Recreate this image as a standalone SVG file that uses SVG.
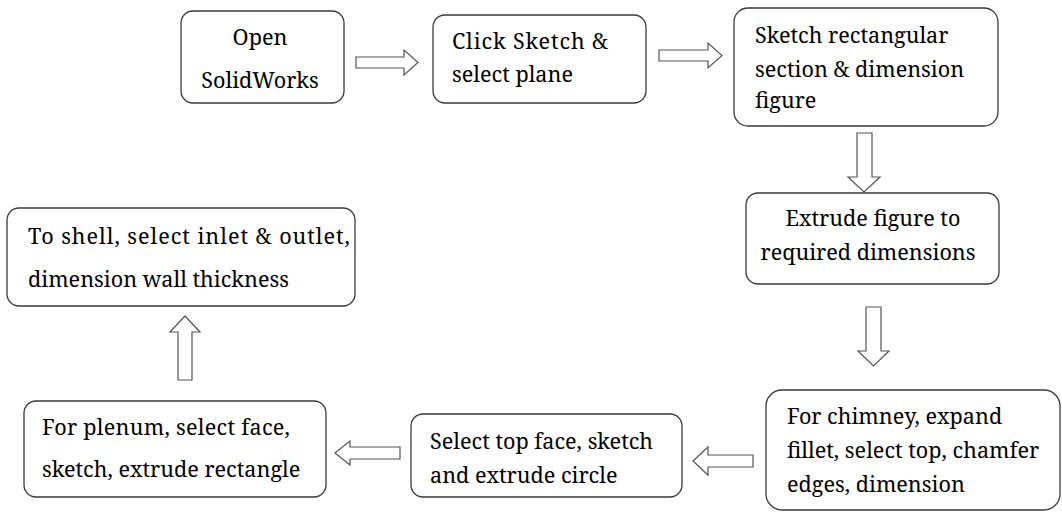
<svg xmlns="http://www.w3.org/2000/svg" width="1062" height="513" viewBox="0 0 1062 513">
<style>
.box{fill:#fff;stroke:#3a3a3a;stroke-width:1.3}
.arr{fill:#fff;stroke:#555;stroke-width:1.2}
text{font-family:'Noto Serif','DejaVu Serif',serif;font-size:21.6px;fill:#000}
.c{text-anchor:middle}
</style>
<rect width="1062" height="513" fill="#fff"/>
<g id="connectors">
<polygon class="arr" points="356,57 404,57 404,50 418,62.5 404,75 404,68 356,68"/>
<polygon class="arr" points="659,50 708,50 708,43 722,55.5 708,68 708,61 659,61"/>
<polygon class="arr" points="857,133 872,133 872,177 880,177 864,192 848,177 857,177"/>
<polygon class="arr" points="866,307 881,307 881,351 889,351 873.5,366 858,351 866,351"/>
<polygon class="arr" points="753,455 708,455 708,447 693,461 708,475 708,467 753,467"/>
<polygon class="arr" points="400,447 350,447 350,441 335,453 350,465 350,459 400,459"/>
<polygon class="arr" points="178,380 178,332 170,332 185,316 200,332 192,332 192,380"/>
</g>
<g id="n1"><rect class="box" x="181" y="11" width="163" height="92" rx="12"/><text class="c" x="260" y="45">Open</text><text class="c" x="260" y="88">SolidWorks</text></g>
<g id="n2"><rect class="box" x="433" y="15" width="213" height="88" rx="12"/><text x="452" y="49" textLength="156" lengthAdjust="spacing">Click Sketch &amp;</text><text x="452" y="82">select plane</text></g>
<g id="n3"><rect class="box" x="734" y="8" width="264" height="118" rx="14"/><text x="755" y="43">Sketch rectangular</text><text x="755" y="77">section &amp; dimension</text><text x="755" y="108">figure</text></g>
<g id="n4"><rect class="box" x="746" y="193" width="253" height="91" rx="12"/><text class="c" x="873" y="226">Extrude figure to</text><text class="c" x="868" y="260">required dimensions</text></g>
<g id="n5"><rect class="box" x="766" y="390" width="294" height="120" rx="16"/><text x="787" y="424">For chimney, expand</text><text x="787" y="458">fillet, select top, chamfer</text><text x="787" y="492">edges, dimension</text></g>
<g id="n6"><rect class="box" x="411" y="414" width="271" height="83" rx="12"/><text x="430" y="449">Select top face, sketch</text><text x="430" y="483">and extrude circle</text></g>
<g id="n7"><rect class="box" x="24" y="401" width="302" height="96" rx="12"/><text x="42" y="435" textLength="248" lengthAdjust="spacing">For plenum, select face,</text><text x="42" y="477">sketch, extrude rectangle</text></g>
<g id="n8"><rect class="box" x="7" y="208" width="348" height="98" rx="12"/><text x="28" y="244" textLength="322" lengthAdjust="spacing">To shell, select inlet &amp; outlet,</text><text x="28" y="287">dimension wall thickness</text></g>
</svg>
